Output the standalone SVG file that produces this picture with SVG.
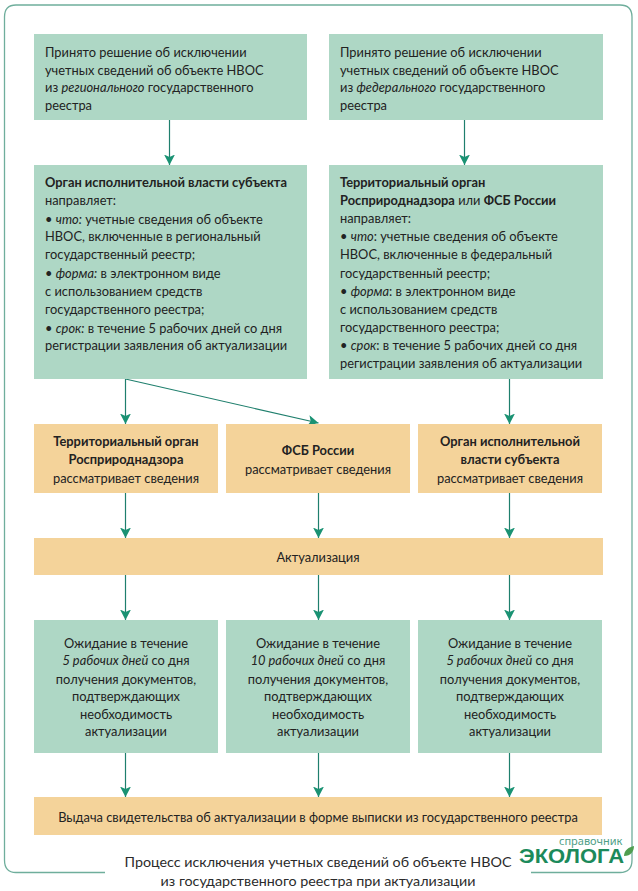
<svg xmlns="http://www.w3.org/2000/svg" width="638" height="891" viewBox="0 0 638 891">
<style>
text{font-family:Lato,"Open Sans","Noto Sans",sans-serif;font-size:12.850px;fill:#222}
.b{font-weight:700}.i{font-style:italic}.c{text-anchor:middle}
.cap{font-size:14.300px;fill:#2b2b2b}
.g{fill:#aed7c5}.o{fill:#f4d39a}
.l{stroke:#1f7f6d;stroke-width:1.200;fill:none;marker-end:url(#a)}
</style>
<defs><marker id="a" markerUnits="userSpaceOnUse" markerWidth="11" markerHeight="12" refX="10.500" refY="5.500" orient="auto"><path d="M0 0L10.500 5.500L0 11L2.500 5.500Z" fill="#1a9273"/></marker></defs>
<rect width="638" height="891" fill="#fff"/>
<path d="M105 872.500H16Q4.500 872.500 4.500 860V17Q4.500 5 16 5H620Q632 5 632 17V860Q632 872.500 620 872.500H531" fill="none" stroke="#6fae9c" stroke-width="1.300"/>
<g id="connectors">
<path class="l" d="M169.500 120V165"/><path class="l" d="M464.500 120V165"/>
<path class="l" d="M125.500 379V424"/><path class="l" d="M125.500 379L318.500 423"/><path class="l" d="M509.500 379V424"/>
<path class="l" d="M125.500 493V538"/><path class="l" d="M318.500 493V538"/><path class="l" d="M509.500 493V538"/>
<path class="l" d="M125.500 575V620"/><path class="l" d="M318.500 575V620"/><path class="l" d="M509.500 575V620"/>
<path class="l" d="M125.500 753V797"/><path class="l" d="M318.500 753V797"/><path class="l" d="M509.500 753V797"/>
</g>
<g id="n1"><rect class="g" x="34" y="34" width="273" height="86"/>
<text x="45" y="56.500">Принято решение об исключении</text><text x="45" y="74.500">учетных сведений об объекте НВОС</text><text x="45" y="92">из <tspan class="i">регионального</tspan> государственного</text><text x="45" y="109.500">реестра</text></g>
<g id="n2"><rect class="g" x="329" y="34" width="274" height="86"/>
<text x="340" y="56.500">Принято решение об исключении</text><text x="340" y="74.500">учетных сведений об объекте НВОС</text><text x="340" y="92">из <tspan class="i">федерального</tspan> государственного</text><text x="340" y="109.500">реестра</text></g>
<g id="n3"><rect class="g" x="34" y="165" width="273" height="214"/>
<text x="45" y="187" class="b">Орган исполнительной власти субъекта</text><text x="45" y="205">направляет:</text>
<text x="45" y="224">• <tspan class="i">что:</tspan> учетные сведения об объекте</text><text x="45" y="241">НВОС, включенные в региональный</text><text x="45" y="259">государственный реестр;</text>
<text x="45" y="278">• <tspan class="i">форма:</tspan> в электронном виде</text><text x="45" y="296">с использованием средств</text><text x="45" y="314">государственного реестра;</text>
<text x="45" y="333">• <tspan class="i">срок:</tspan> в течение 5 рабочих дней со дня</text><text x="45" y="350">регистрации заявления об актуализации</text></g>
<g id="n4"><rect class="g" x="329" y="165" width="274" height="214"/>
<text x="340" y="187" class="b">Территориальный орган</text><text x="340" y="205"><tspan class="b">Росприроднадзора</tspan> или <tspan class="b">ФСБ России</tspan></text><text x="340" y="223">направляет:</text>
<text x="340" y="241">• <tspan class="i">что</tspan>: учетные сведения об объекте</text><text x="340" y="259">НВОС, включенные в федеральный</text><text x="340" y="278">государственный реестр;</text>
<text x="340" y="296">• <tspan class="i">форма</tspan>: в электронном виде</text><text x="340" y="314">с использованием средств</text><text x="340" y="332">государственного реестра;</text>
<text x="340" y="350">• <tspan class="i">срок</tspan>: в течение 5 рабочих дней со дня</text><text x="340" y="368">регистрации заявления об актуализации</text></g>
<g id="n5"><rect class="o" x="34" y="424" width="184" height="69"/>
<text class="c b" x="126" y="446">Территориальный орган</text><text class="c b" x="126" y="464">Росприроднадзора</text><text class="c" x="126" y="483">рассматривает сведения</text></g>
<g id="n6"><rect class="o" x="226" y="424" width="184" height="69"/>
<text class="c b" x="318" y="455">ФСБ России</text><text class="c" x="318" y="474">рассматривает сведения</text></g>
<g id="n7"><rect class="o" x="418" y="424" width="184" height="69"/>
<text class="c b" x="510" y="446">Орган исполнительной</text><text class="c b" x="510" y="464">власти субъекта</text><text class="c" x="510" y="483">рассматривает сведения</text></g>
<g id="n8"><rect class="o" x="34" y="538" width="569" height="37"/><text class="c" x="318" y="562">Актуализация</text></g>
<g id="n9"><rect class="g" x="34" y="620" width="184" height="133"/>
<text class="c" x="126" y="648">Ожидание в течение</text><text class="c" x="126" y="665"><tspan class="i">5 рабочих дней</tspan> со дня</text><text class="c" x="126" y="684">получения документов,</text><text class="c" x="126" y="701">подтверждающих</text><text class="c" x="126" y="719">необходимость</text><text class="c" x="126" y="736">актуализации</text></g>
<g id="n10"><rect class="g" x="226" y="620" width="184" height="133"/>
<text class="c" x="318" y="648">Ожидание в течение</text><text class="c" x="318" y="665"><tspan class="i">10 рабочих дней</tspan> со дня</text><text class="c" x="318" y="684">получения документов,</text><text class="c" x="318" y="701">подтверждающих</text><text class="c" x="318" y="719">необходимость</text><text class="c" x="318" y="736">актуализации</text></g>
<g id="n11"><rect class="g" x="418" y="620" width="184" height="133"/>
<text class="c" x="510" y="648">Ожидание в течение</text><text class="c" x="510" y="665"><tspan class="i">5 рабочих дней</tspan> со дня</text><text class="c" x="510" y="684">получения документов,</text><text class="c" x="510" y="701">подтверждающих</text><text class="c" x="510" y="719">необходимость</text><text class="c" x="510" y="736">актуализации</text></g>
<g id="n12"><rect class="o" x="34" y="797" width="568" height="38"/><text class="c" x="318" y="822">Выдача свидетельства об актуализации в форме выписки из государственного реестра</text></g>
<g id="caption"><text class="c cap" x="318" y="867">Процесс исключения учетных сведений об объекте НВОС</text><text class="c cap" x="318" y="886">из государственного реестра при актуализации</text></g>
<g id="logo"><text x="559" y="845" style="font-size:11px;fill:#4f9e86;font-family:'Noto Sans',sans-serif">справочник</text>
<text x="519" y="863" textLength="105" lengthAdjust="spacingAndGlyphs" style="font-size:20px;font-weight:700;fill:#1c8a5b;font-family:'Liberation Sans',sans-serif">ЭКОЛОГА</text>
<path d="M624 856C624 850 629 847 634 846C634 851 631 856 624 856Z" fill="#4f9e50"/></g>
</svg>
